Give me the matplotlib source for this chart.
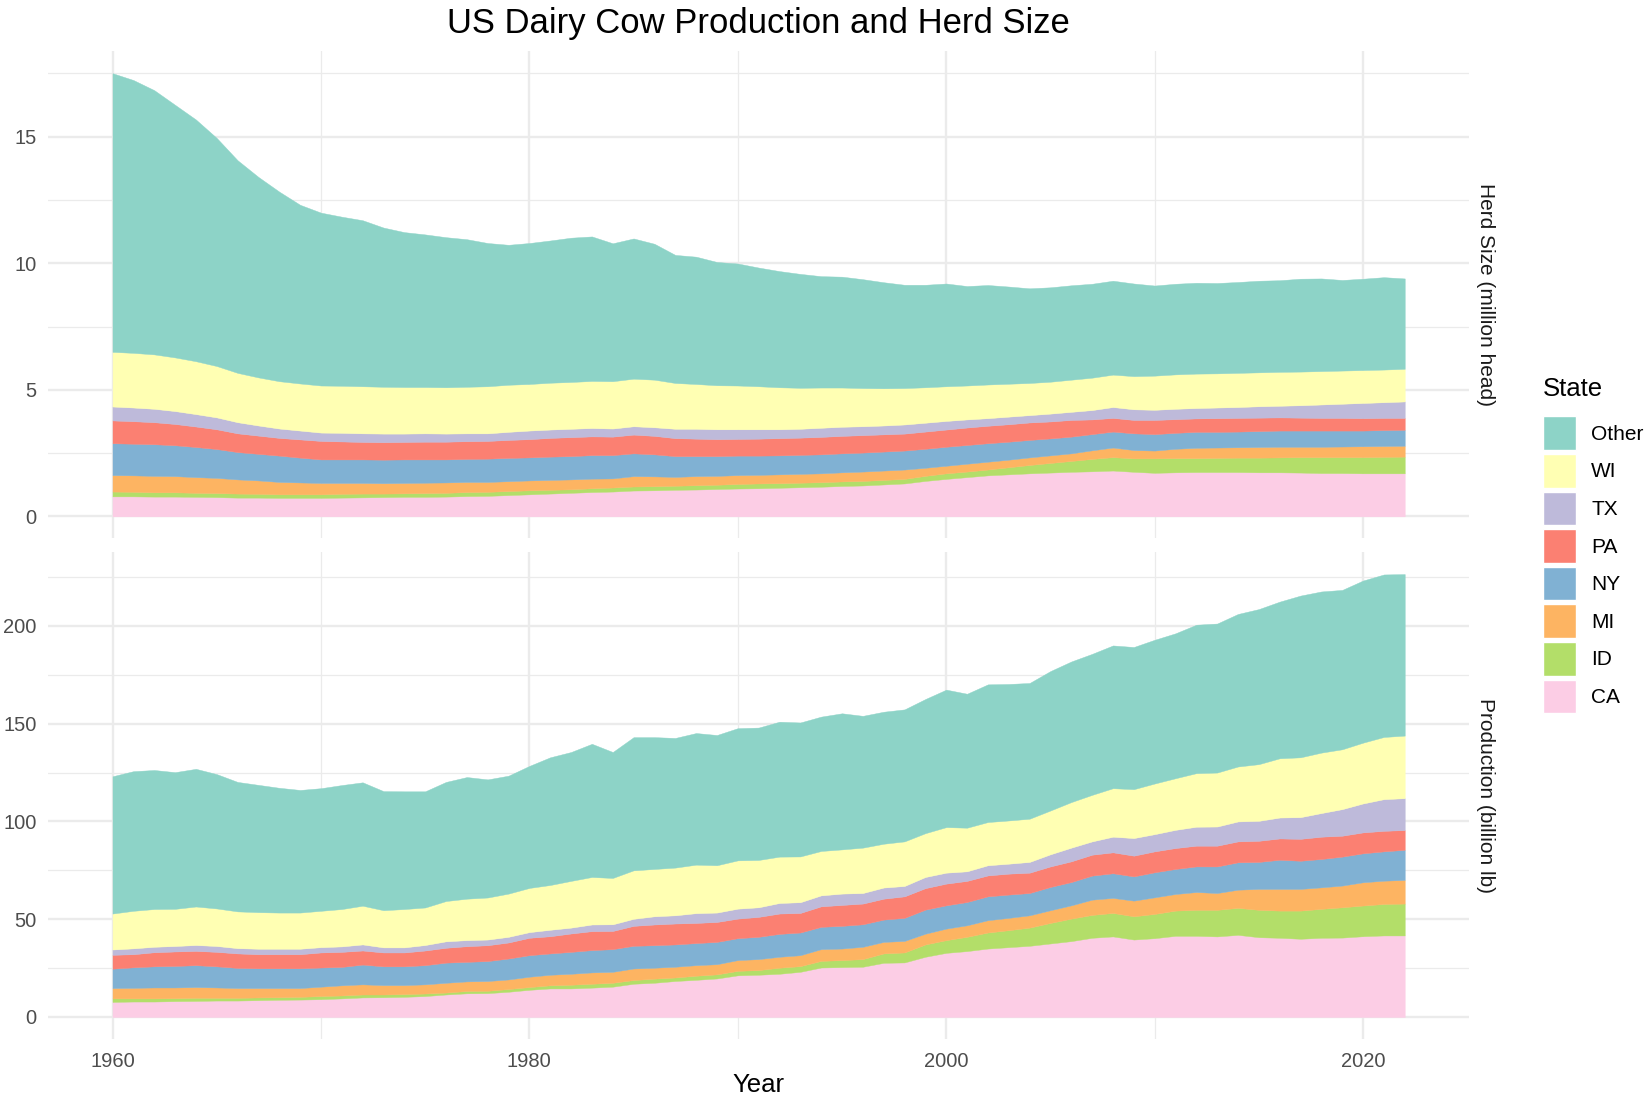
import numpy as np
import matplotlib
matplotlib.use('Agg')
import matplotlib.pyplot as plt
from matplotlib.patches import Patch

plt.rcParams['font.family'] = ['Liberation Sans', 'DejaVu Sans']

# ---- data ----
years = list(range(1960, 2023))

states = ['Other', 'WI', 'TX', 'PA', 'NY', 'MI', 'ID', 'CA']
state_colors = {
    'Other': '#8DD3C7',
    'WI': '#FFFFB3',
    'TX': '#BEBADA',
    'PA': '#FB8072',
    'NY': '#80B1D3',
    'MI': '#FDB462',
    'ID': '#B3DE69',
    'CA': '#FCCDE5'}

# herd size, million head
herd_ca = [0.79, 0.79, 0.78, 0.78, 0.77, 0.76, 0.74, 0.74, 0.73, 0.73,
           0.73, 0.74, 0.75, 0.76, 0.77, 0.77, 0.78, 0.80, 0.81, 0.84,
           0.87, 0.90, 0.93, 0.96, 0.98, 1.02, 1.03, 1.05, 1.06, 1.08,
           1.10, 1.11, 1.13, 1.15, 1.17, 1.20, 1.22, 1.26, 1.30, 1.40,
           1.48, 1.55, 1.62, 1.66, 1.70, 1.73, 1.76, 1.78, 1.81, 1.76,
           1.72, 1.74, 1.75, 1.75, 1.75, 1.74, 1.74, 1.73, 1.71, 1.71,
           1.70, 1.70, 1.70]
herd_id = [0.19, 0.18, 0.17, 0.17, 0.16, 0.16, 0.16, 0.15, 0.14, 0.14,
           0.14, 0.15, 0.15, 0.14, 0.14, 0.15, 0.15, 0.16, 0.16, 0.16,
           0.16, 0.15, 0.14, 0.15, 0.16, 0.16, 0.16, 0.16, 0.17, 0.17,
           0.18, 0.19, 0.18, 0.18, 0.18, 0.18, 0.18, 0.18, 0.18, 0.20,
           0.22, 0.22, 0.23, 0.28, 0.33, 0.38, 0.43, 0.49, 0.53, 0.53,
           0.57, 0.56, 0.55, 0.56, 0.57, 0.58, 0.59, 0.61, 0.63, 0.63,
           0.64, 0.65, 0.66]
herd_mi = [0.65, 0.65, 0.65, 0.64, 0.62, 0.60, 0.56, 0.53, 0.49, 0.47,
           0.45, 0.43, 0.42, 0.41, 0.41, 0.41, 0.41, 0.40, 0.39, 0.39,
           0.39, 0.39, 0.39, 0.38, 0.36, 0.41, 0.39, 0.35, 0.36, 0.35,
           0.35, 0.34, 0.35, 0.35, 0.35, 0.36, 0.37, 0.37, 0.37, 0.32,
           0.30, 0.31, 0.31, 0.30, 0.30, 0.30, 0.30, 0.34, 0.38, 0.33,
           0.31, 0.37, 0.41, 0.41, 0.41, 0.42, 0.42, 0.41, 0.41, 0.42,
           0.43, 0.43, 0.43]
herd_ny = [1.26, 1.25, 1.25, 1.22, 1.19, 1.14, 1.08, 1.05, 1.04, 0.98,
           0.93, 0.93, 0.93, 0.93, 0.93, 0.92, 0.91, 0.91, 0.92, 0.92,
           0.91, 0.92, 0.92, 0.93, 0.92, 0.90, 0.87, 0.82, 0.79, 0.78,
           0.77, 0.76, 0.75, 0.75, 0.75, 0.75, 0.75, 0.75, 0.75, 0.75,
           0.75, 0.74, 0.73, 0.71, 0.69, 0.67, 0.66, 0.64, 0.63, 0.66,
           0.65, 0.63, 0.63, 0.62, 0.62, 0.63, 0.64, 0.64, 0.64, 0.63,
           0.62, 0.63, 0.63]
herd_pa = [0.90, 0.89, 0.87, 0.84, 0.81, 0.78, 0.74, 0.72, 0.70, 0.72,
           0.73, 0.71, 0.69, 0.69, 0.69, 0.70, 0.70, 0.70, 0.70, 0.71,
           0.72, 0.74, 0.75, 0.74, 0.73, 0.74, 0.73, 0.71, 0.69, 0.67,
           0.66, 0.67, 0.68, 0.68, 0.69, 0.69, 0.69, 0.68, 0.67, 0.68,
           0.68, 0.69, 0.69, 0.69, 0.69, 0.67, 0.66, 0.58, 0.54, 0.53,
           0.56, 0.54, 0.53, 0.54, 0.54, 0.53, 0.52, 0.51, 0.50, 0.50,
           0.49, 0.48, 0.47]
herd_tx = [0.55, 0.54, 0.53, 0.51, 0.49, 0.47, 0.44, 0.40, 0.37, 0.35,
           0.33, 0.34, 0.34, 0.34, 0.33, 0.33, 0.32, 0.31, 0.30, 0.32,
           0.34, 0.33, 0.33, 0.33, 0.32, 0.33, 0.34, 0.37, 0.39, 0.39,
           0.38, 0.37, 0.35, 0.35, 0.36, 0.36, 0.35, 0.35, 0.36, 0.35,
           0.34, 0.32, 0.30, 0.30, 0.29, 0.31, 0.32, 0.37, 0.43, 0.42,
           0.40, 0.41, 0.41, 0.42, 0.43, 0.45, 0.46, 0.49, 0.53, 0.56,
           0.60, 0.62, 0.65]
herd_wi = [2.16, 2.16, 2.15, 2.12, 2.09, 2.03, 1.95, 1.90, 1.87, 1.86,
           1.86, 1.86, 1.86, 1.85, 1.84, 1.83, 1.83, 1.84, 1.86, 1.86,
           1.84, 1.85, 1.85, 1.86, 1.87, 1.88, 1.88, 1.81, 1.77, 1.74,
           1.73, 1.70, 1.66, 1.62, 1.59, 1.55, 1.51, 1.47, 1.44, 1.40,
           1.37, 1.34, 1.33, 1.30, 1.27, 1.26, 1.27, 1.28, 1.28, 1.31,
           1.35, 1.36, 1.36, 1.35, 1.35, 1.34, 1.34, 1.33, 1.32, 1.31,
           1.30, 1.29, 1.29]
herd_other = [11.01, 10.78, 10.44, 9.98, 9.55, 9.01, 8.40, 7.92, 7.49, 7.06,
              6.83, 6.68, 6.56, 6.29, 6.12, 6.03, 5.93, 5.83, 5.66, 5.53,
              5.57, 5.62, 5.70, 5.71, 5.45, 5.54, 5.37, 5.06, 5.03, 4.87,
              4.82, 4.69, 4.59, 4.50, 4.40, 4.38, 4.30, 4.19, 4.08, 4.05,
              4.06, 3.93, 3.93, 3.84, 3.74, 3.73, 3.73, 3.71, 3.71, 3.66,
              3.56, 3.58, 3.59, 3.57, 3.59, 3.62, 3.62, 3.67, 3.66, 3.58,
              3.61, 3.65, 3.57]

# production, billion lb
prod_ca = [7.7, 7.9, 7.9, 8.1, 8.2, 8.4, 8.4, 8.6, 8.8, 8.9,
           9.1, 9.5, 10.0, 10.1, 10.3, 10.7, 11.5, 12.1, 12.2, 12.9,
           13.9, 14.6, 14.6, 15.0, 15.5, 17.0, 17.5, 18.4, 19.0, 19.7,
           21.3, 21.6, 22.1, 23.1, 25.3, 25.5, 25.7, 27.7, 27.9, 30.8,
           32.8, 33.7, 35.0, 35.7, 36.4, 37.6, 38.8, 40.5, 41.2, 39.6,
           40.3, 41.5, 41.5, 41.2, 42.0, 40.8, 40.5, 40.0, 40.5, 40.6,
           41.3, 41.7, 41.7]
prod_id = [1.8, 1.6, 1.6, 1.5, 1.6, 1.4, 1.4, 1.4, 1.3, 1.4,
           1.6, 1.5, 1.5, 1.4, 1.4, 1.3, 1.0, 1.2, 1.2, 1.4,
           1.4, 1.6, 1.9, 2.0, 2.0, 1.9, 2.1, 1.8, 2.1, 2.1,
           2.3, 2.4, 3.1, 2.9, 3.4, 3.6, 3.9, 4.8, 5.1, 6.3,
           6.5, 7.3, 8.2, 8.7, 9.3, 10.5, 11.5, 11.7, 12.0, 11.9,
           12.4, 12.9, 13.3, 13.6, 13.8, 14.0, 13.9, 14.4, 14.8, 15.5,
           15.7, 16.1, 16.3]
prod_mi = [5.3, 5.4, 5.6, 5.5, 5.5, 5.3, 5.0, 4.8, 4.7, 4.5,
           4.8, 5.2, 5.2, 4.8, 4.6, 4.7, 5.0, 4.9, 5.0, 4.9,
           5.3, 5.4, 5.6, 5.8, 5.6, 5.9, 5.6, 5.5, 5.4, 5.2,
           5.5, 5.6, 5.6, 5.6, 6.0, 5.9, 6.3, 5.9, 5.9, 5.5,
           5.9, 5.9, 6.3, 6.3, 6.3, 6.5, 6.8, 7.8, 7.7, 8.0,
           8.5, 8.5, 9.1, 8.6, 9.3, 10.7, 11.1, 11.1, 11.0, 11.1,
           11.9, 11.9, 12.1]
prod_ny = [9.9, 10.5, 10.8, 11.0, 11.2, 10.8, 10.3, 10.1, 10.1, 10.1,
           9.8, 9.4, 10.1, 9.6, 9.6, 9.8, 10.3, 10.0, 10.2, 10.7,
           11.0, 10.9, 11.2, 11.4, 11.6, 11.6, 11.5, 11.4, 11.3, 11.4,
           11.2, 11.4, 11.7, 11.6, 11.4, 11.6, 11.5, 11.4, 11.8, 12.3,
           11.9, 11.9, 12.2, 11.9, 11.4, 11.9, 11.9, 12.3, 12.6, 12.4,
           12.8, 12.8, 13.1, 13.6, 14.0, 13.8, 14.9, 14.4, 14.5, 14.8,
           14.8, 15.0, 15.4]
prod_pa = [7.1, 6.7, 7.2, 7.4, 7.3, 7.4, 7.4, 7.2, 7.2, 7.2,
           7.7, 7.7, 7.2, 7.1, 7.1, 7.5, 7.6, 8.0, 8.1, 8.2,
           8.9, 8.8, 9.4, 9.7, 9.3, 10.2, 10.6, 10.7, 10.3, 10.2,
           10.0, 10.2, 10.4, 10.0, 10.5, 10.7, 10.6, 10.7, 11.0, 11.0,
           11.1, 10.8, 10.7, 10.7, 10.4, 10.5, 10.6, 10.7, 10.7, 10.6,
           10.7, 10.7, 10.6, 10.6, 10.7, 10.8, 10.9, 11.2, 11.4, 10.7,
           10.7, 10.5, 10.1]
prod_tx = [2.7, 3.0, 2.8, 2.8, 3.0, 3.0, 2.7, 2.8, 2.8, 2.8,
           2.7, 2.8, 3.1, 2.6, 2.6, 2.8, 3.3, 3.1, 2.9, 2.9,
           2.9, 3.3, 3.0, 3.4, 3.4, 3.6, 4.2, 4.2, 5.0, 4.8,
           5.1, 4.9, 5.4, 5.5, 5.6, 5.8, 5.4, 5.7, 5.3, 5.7,
           5.6, 4.9, 5.2, 5.1, 5.5, 6.2, 7.0, 6.8, 8.0, 9.0,
           8.8, 9.3, 9.7, 9.8, 10.2, 10.2, 10.7, 11.1, 12.1, 13.6,
           14.8, 16.2, 16.3]
prod_wi = [18.4, 19.2, 19.3, 19.0, 19.7, 19.2, 18.8, 18.7, 18.5, 18.5,
           18.6, 19.1, 19.8, 19.0, 19.6, 19.2, 20.6, 21.2, 21.5, 22.1,
           22.6, 22.9, 23.9, 24.3, 23.7, 24.8, 24.2, 24.4, 24.8, 24.2,
           24.7, 24.2, 23.7, 23.4, 22.7, 22.6, 23.2, 22.4, 22.8, 22.4,
           23.3, 22.3, 22.1, 22.1, 22.1, 22.4, 23.3, 23.8, 24.8, 25.0,
           25.9, 26.4, 27.4, 27.6, 28.1, 29.0, 30.3, 30.6, 30.9, 30.6,
           31.1, 31.8, 32.0]
prod_other = [70.2, 71.4, 71.1, 69.9, 70.4, 68.7, 66.2, 65.1, 63.8, 62.7,
              62.7, 63.4, 63.1, 60.9, 60.2, 59.4, 60.9, 62.2, 60.4, 60.3,
              62.4, 65.3, 65.9, 68.1, 64.4, 68.1, 67.4, 66.3, 67.3, 66.6,
              67.6, 67.7, 69.0, 68.5, 68.7, 69.6, 67.4, 67.5, 67.5, 68.6,
              70.3, 68.5, 70.4, 69.8, 69.4, 71.3, 71.9, 72.1, 73.0, 72.7,
              73.5, 74.1, 75.9, 76.2, 78.0, 79.3, 80.1, 82.7, 82.4, 81.5,
              82.9, 83.1, 82.6]

x_major = [1960, 1980, 2000, 2020]
x_minor = [1970, 1990, 2010]

TEXT_GREY = '#4D4D4D'
GRID = '#EBEBEB'


def style_panel(ax, ymax, major, minor, show_x):
    ax.set_xlim(1956.9, 2025.1)
    ax.set_ylim(-0.05 * ymax, 1.05 * ymax)
    ax.set_xticks(x_major)
    ax.set_xticks(x_minor, minor=True)
    ax.set_yticks(major)
    ax.set_yticks(minor, minor=True)
    ax.grid(which='major', color=GRID, linewidth=1.7)
    ax.grid(which='minor', color=GRID, linewidth=0.9)
    ax.set_axisbelow(True)
    for s in ax.spines.values():
        s.set_visible(False)
    ax.tick_params(which='both', length=0, labelsize=14.5, labelcolor=TEXT_GREY)
    ax.tick_params(axis='y', pad=8)
    ax.tick_params(axis='x', pad=9)
    if not show_x:
        ax.tick_params(axis='x', labelbottom=False)


def draw_stack(ax, layers):
    # bottom to top: CA, ID, MI, NY, PA, TX, WI, Other
    order = ['CA', 'ID', 'MI', 'NY', 'PA', 'TX', 'WI', 'Other']
    ax.stackplot(years, [layers[k] for k in order],
                 colors=[state_colors[k] for k in order],
                 edgecolor='face', linewidth=0.3)


fig = plt.figure(figsize=(16.49, 11.01), dpi=100)
ax1 = fig.add_axes([0.02905, 0.5109, 0.862, 0.4425])
ax2 = fig.add_axes([0.02905, 0.0562, 0.862, 0.4425])

draw_stack(ax1, {'CA': herd_ca, 'ID': herd_id, 'MI': herd_mi, 'NY': herd_ny,
                 'PA': herd_pa, 'TX': herd_tx, 'WI': herd_wi, 'Other': herd_other})
draw_stack(ax2, {'CA': prod_ca, 'ID': prod_id, 'MI': prod_mi, 'NY': prod_ny,
                 'PA': prod_pa, 'TX': prod_tx, 'WI': prod_wi, 'Other': prod_other})

style_panel(ax1, 17.5, [0, 5, 10, 15], [2.5, 7.5, 12.5, 17.5], False)
style_panel(ax2, 226.5, [0, 50, 100, 150, 200], [25, 75, 125, 175, 225], True)

# facet strips on the right
fig.text(0.9008, 0.5109 + 0.4425 / 2, 'Herd Size (million head)', rotation=270,
         ha='center', va='center', fontsize=15, color='#1A1A1A')
fig.text(0.9008, 0.0562 + 0.4425 / 2, 'Production (billion lb)', rotation=270,
         ha='center', va='center', fontsize=15, color='#1A1A1A')

fig.text(0.46, 0.979, 'US Dairy Cow Production and Herd Size',
         ha='center', va='center', fontsize=24.9, color='black')
fig.text(0.46, 0.0145, 'Year', ha='center', va='center', fontsize=18.5, color='black')

handles = [Patch(facecolor=state_colors[s], edgecolor='white', linewidth=1) for s in states]
leg = fig.legend(handles, states, loc='upper left',
                 bbox_to_anchor=(1543 / 1649, 1 - 377 / 1101),
                 frameon=False, fontsize=15, title='State', title_fontsize=18.5,
                 handlelength=1.6, handleheight=2.11, labelspacing=0.19,
                 handletextpad=0.72, borderpad=0, borderaxespad=0,
                 alignment='left')
# a little more room between the legend title and the keys
leg._legend_box.sep = 11

fig.savefig('out.png', dpi=100)
